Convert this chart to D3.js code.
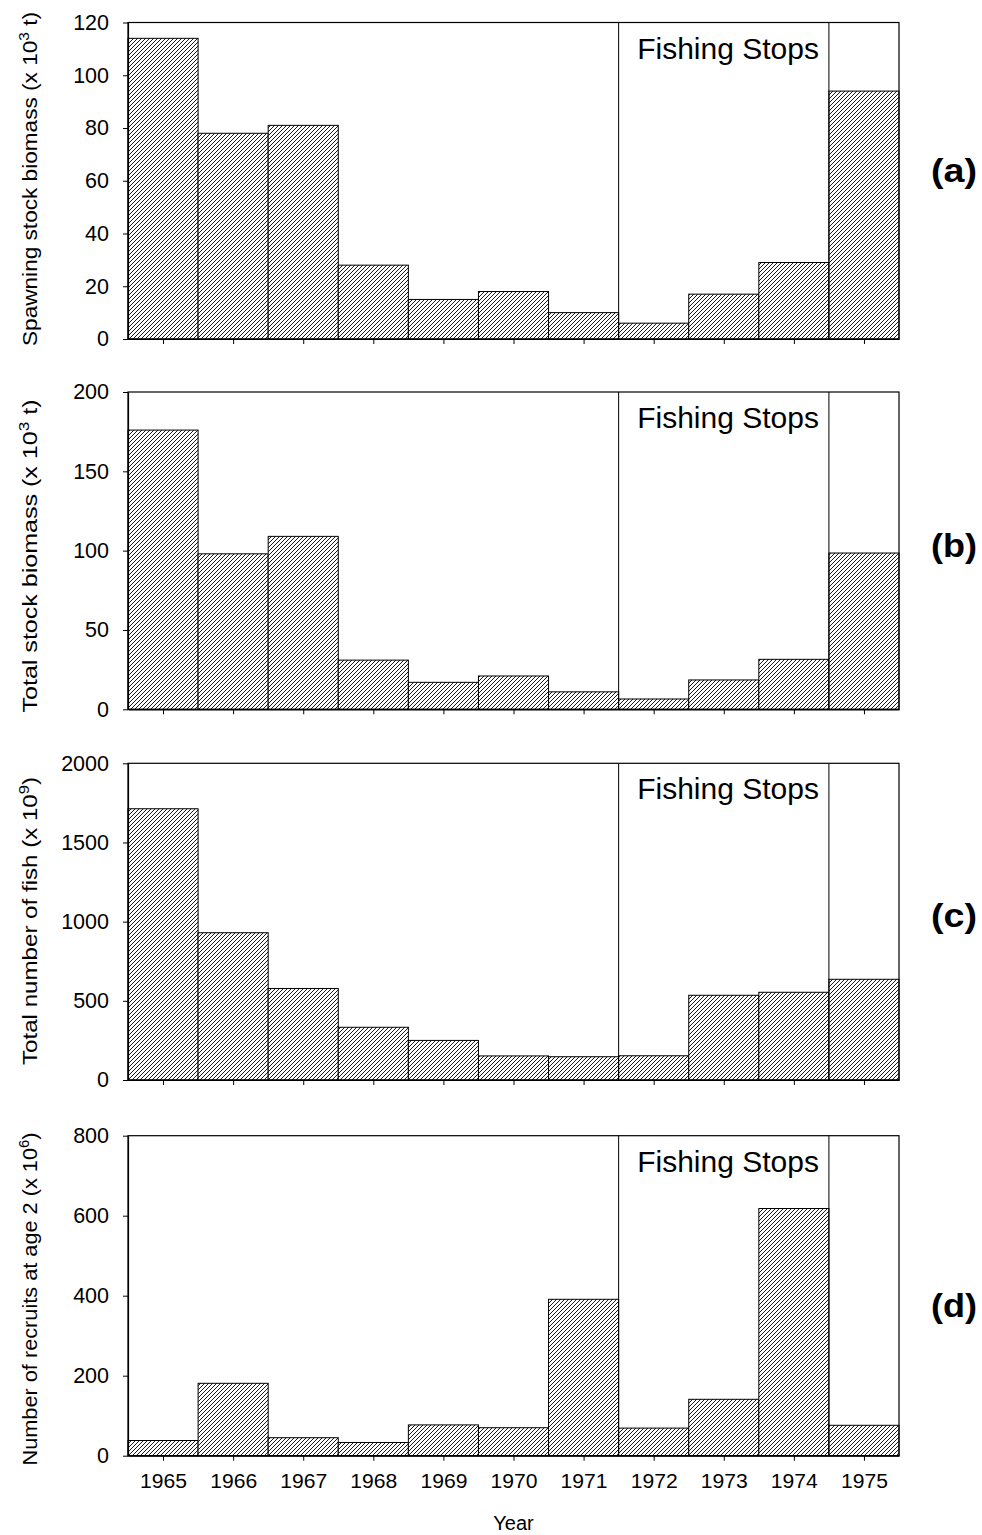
<!DOCTYPE html>
<html>
<head>
<meta charset="utf-8">
<script src="https://cdn.jsdelivr.net/npm/d3@7"></script>
<style>
  html, body { margin: 0; padding: 0; background: #fff; }
  svg { display: block; font-family: "Liberation Sans", Arial, sans-serif; }
</style>
</head>
<body>
<svg id="chart" width="982" height="1535"></svg>
<script>
// ---- data ----
const years = [1965, 1966, 1967, 1968, 1969, 1970, 1971, 1972, 1973, 1974, 1975];
const spawningBiomass = [114, 78, 81, 28, 15, 18, 10, 6, 17, 29, 94];
const totalBiomass = [176, 98, 109, 31, 17, 21, 11, 6.5, 18.5, 31.5, 98.5];
const totalNumber = [1713, 930, 578, 333, 250, 152, 147, 153, 535, 554, 636];
const recruitsAge2 = [38, 181, 45, 33, 77, 70, 391, 69, 141, 618, 76];

const ticksA = [0, 20, 40, 60, 80, 100, 120];
const ticksB = [0, 50, 100, 150, 200];
const ticksC = [0, 500, 1000, 1500, 2000];
const ticksD = [0, 200, 400, 600, 800];

const fishingStopBounds = [1971.5, 1974.5];
const fishingStopLabel = "Fishing Stops";
const xTitle = "Year";

const panels = [
  { values: spawningBiomass, ticks: ticksA, label: "(a)",
    title: ["Spawning stock biomass (x 10", "3", " t)"] },
  { values: totalBiomass, ticks: ticksB, label: "(b)",
    title: ["Total stock biomass (x 10", "3", " t)"] },
  { values: totalNumber, ticks: ticksC, label: "(c)",
    title: ["Total number of fish (x 10", "9", ")"] },
  { values: recruitsAge2, ticks: ticksD, label: "(d)",
    title: ["Number of recruits at age 2 (x 10", "6", ")"] }
];

// ---- layout (pixels) ----
const layout = [
  { top: 22.5, bottom: 339, titleC: 179, titleL: 334, labelY: 170 },
  { top: 392, bottom: 709.3, titleC: 556, titleL: 313, labelY: 545 },
  { top: 763.3, bottom: 1080, titleC: 921, titleL: 288, labelY: 915 },
  { top: 1135.7, bottom: 1455.7, titleC: 1299, titleL: 333, labelY: 1305 }
];
const left = 128, right = 899;

const svg = d3.select("#chart");

// hatch pattern
const defs = svg.append("defs");
const pat = defs.append("pattern")
  .attr("id", "hatch").attr("patternUnits", "userSpaceOnUse")
  .attr("width", 4).attr("height", 4);
pat.append("rect").attr("width", 4).attr("height", 4).attr("fill", "#fff");
pat.append("path")
  .attr("d", "M-1,1 l2,-2 M0,4 l4,-4 M3,5 l2,-2")
  .attr("stroke", "#000").attr("stroke-width", 0.9);

const x = d3.scaleLinear()
  .domain([years[0] - 0.5, years[years.length - 1] + 0.5])
  .range([left, right]);

panels.forEach((p, i) => {
  const L = layout[i];
  const maxV = p.ticks[p.ticks.length - 1];
  const y = d3.scaleLinear().domain([0, maxV]).range([L.bottom, L.top]);
  const g = svg.append("g");

  // bars
  g.selectAll("rect.bar")
    .data(years.map((yr, k) => ({ yr, v: p.values[k] })))
    .join("rect")
    .attr("class", "bar")
    .attr("x", d => x(d.yr - 0.5))
    .attr("width", d => x(d.yr + 0.5) - x(d.yr - 0.5))
    .attr("y", d => y(d.v))
    .attr("height", d => y(0) - y(d.v))
    .attr("fill", "url(#hatch)")
    .attr("stroke", "#000")
    .attr("stroke-width", 1);

  // fishing stop lines
  g.selectAll("line.stop")
    .data(fishingStopBounds)
    .join("line")
    .attr("x1", d => x(d)).attr("x2", d => x(d))
    .attr("y1", y(0)).attr("y2", y(maxV))
    .attr("stroke", "#000").attr("stroke-width", 1);

  // frame
  g.append("rect")
    .attr("x", left).attr("y", y(maxV))
    .attr("width", right - left).attr("height", y(0) - y(maxV))
    .attr("fill", "none").attr("stroke", "#000").attr("stroke-width", 1.2);

  // fishing stops label
  g.append("text")
    .attr("x", x(fishingStopBounds[1]) - 10)
    .attr("y", y(maxV) + 36)
    .attr("text-anchor", "end")
    .attr("font-size", 30)
    .attr("fill", "#000")
    .text(fishingStopLabel);

  // y axis
  const ya = d3.axisLeft(y).tickValues(p.ticks).tickSize(5).tickPadding(14)
    .tickSizeOuter(0).tickFormat(d3.format("d"));
  const yg = g.append("g").attr("transform", `translate(${left},0)`).call(ya);
  yg.select(".domain").attr("stroke-width", 1.2);
  yg.selectAll(".tick line").attr("stroke-width", 1);
  yg.selectAll(".tick text").attr("font-size", 21.5)
    .attr("font-family", "Liberation Sans, Arial, sans-serif").attr("fill", "#000");

  // x axis
  const xa = d3.axisBottom(x).tickValues(years).tickSize(5).tickPadding(13)
    .tickSizeOuter(0).tickFormat(d3.format("d"));
  const xg = g.append("g").attr("transform", `translate(0,${y(0)})`).call(xa);
  xg.select(".domain").attr("stroke-width", 1.2);
  xg.selectAll(".tick line").attr("stroke-width", 1);
  if (i === panels.length - 1) {
    xg.selectAll(".tick text").attr("font-size", 19.5)
      .attr("textLength", 47).attr("lengthAdjust", "spacingAndGlyphs")
      .attr("font-family", "Liberation Sans, Arial, sans-serif").attr("fill", "#000");
  } else {
    xg.selectAll(".tick text").remove();
  }

  // y title
  const t = g.append("text")
    .attr("transform", `translate(37,${L.titleC}) rotate(-90)`)
    .attr("text-anchor", "middle")
    .attr("font-size", 20.5)
    .attr("fill", "#000")
    .attr("textLength", L.titleL)
    .attr("lengthAdjust", "spacingAndGlyphs");
  t.append("tspan").text(p.title[0]);
  t.append("tspan").attr("dy", -8).attr("font-size", 14).text(p.title[1]);
  t.append("tspan").attr("dy", 8).text(p.title[2]);

  // panel label
  g.append("text")
    .attr("x", 954).attr("y", L.labelY)
    .attr("dy", "0.35em")
    .attr("text-anchor", "middle")
    .attr("font-size", 33)
    .attr("font-weight", "bold")
    .attr("textLength", 46)
    .attr("lengthAdjust", "spacingAndGlyphs")
    .attr("fill", "#000")
    .text(p.label);

  if (i === panels.length - 1) {
    svg.append("text")
      .attr("x", (left + right) / 2).attr("y", 1530)
      .attr("text-anchor", "middle")
      .attr("font-size", 20)
      .attr("fill", "#000")
      .text(xTitle);
  }
});
</script>
</body>
</html>
